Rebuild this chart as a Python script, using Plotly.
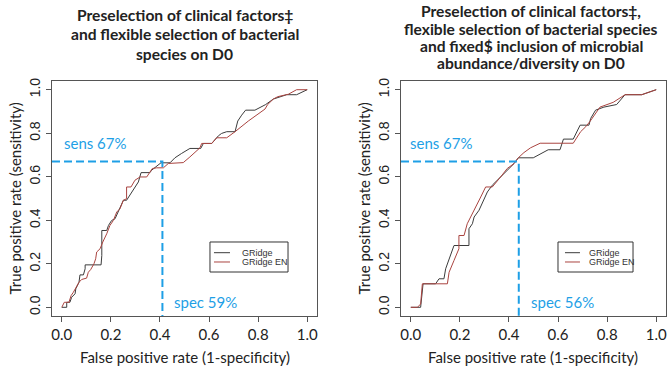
import plotly.graph_objects as go

# ---------------- data ----------------
tick_vals = [0.0, 0.2, 0.4, 0.6, 0.8, 1.0]
tick_text = ["0.0", "0.2", "0.4", "0.6", "0.8", "1.0"]
series_names = ["GRidge", "GRidge EN"]

# Left panel: clinical factors + flexible species selection
fpr_left_gr = [0.0, 0.020, 0.020, 0.033, 0.040, 0.054, 0.057, 0.070, 0.074, 0.088, 0.095, 0.095, 0.160, 0.163,
               0.163, 0.183, 0.190, 0.203, 0.217, 0.244, 0.251, 0.264, 0.285, 0.312, 0.323, 0.359, 0.366, 0.380,
               0.404, 0.441, 0.461, 0.488, 0.522, 0.566, 0.577, 0.611, 0.638, 0.651, 0.672, 0.706, 0.717, 0.733,
               0.749, 0.787, 0.808, 0.831, 0.862, 0.916, 0.957, 1.0]
tpr_left_gr = [0.0, 0.0, 0.023, 0.023, 0.046, 0.062, 0.085, 0.115, 0.149, 0.149, 0.177, 0.195, 0.195, 0.238,
               0.353, 0.353, 0.376, 0.399, 0.407, 0.469, 0.492, 0.492, 0.530, 0.576, 0.619, 0.619, 0.630, 0.642,
               0.664, 0.664, 0.687, 0.707, 0.730, 0.730, 0.753, 0.753, 0.788, 0.799, 0.807, 0.807, 0.856, 0.883,
               0.906, 0.906, 0.917, 0.932, 0.957, 0.977, 0.977, 1.0]
fpr_left_en = [0.0, 0.010, 0.029, 0.038, 0.047, 0.057, 0.070, 0.081, 0.101, 0.108, 0.118, 0.131, 0.138, 0.142,
               0.156, 0.167, 0.176, 0.183, 0.196, 0.210, 0.224, 0.237, 0.251, 0.264, 0.264, 0.282, 0.298, 0.319,
               0.346, 0.359, 0.369, 0.387, 0.414, 0.434, 0.495, 0.522, 0.563, 0.570, 0.611, 0.631, 0.672, 0.706,
               0.760, 0.828, 0.839, 0.862, 0.880, 0.923, 0.957, 1.0]
tpr_left_en = [0.0, 0.023, 0.023, 0.054, 0.069, 0.092, 0.115, 0.128, 0.134, 0.161, 0.174, 0.200, 0.223, 0.254,
               0.269, 0.300, 0.318, 0.338, 0.376, 0.399, 0.438, 0.453, 0.492, 0.499, 0.553, 0.553, 0.584, 0.599,
               0.599, 0.622, 0.638, 0.641, 0.641, 0.661, 0.665, 0.691, 0.733, 0.753, 0.753, 0.779, 0.779, 0.807,
               0.856, 0.911, 0.932, 0.957, 0.968, 0.979, 1.0, 1.0]

# Right panel: + fixed inclusion of microbial abundance/diversity
fpr_right_gr = [0.0, 0.040, 0.050, 0.101, 0.115, 0.135, 0.142, 0.156, 0.163, 0.176, 0.237, 0.237, 0.251, 0.258,
                0.278, 0.298, 0.312, 0.332, 0.366, 0.393, 0.421, 0.438, 0.499, 0.560, 0.608, 0.622, 0.662, 0.690,
                0.726, 0.733, 0.753, 0.787, 0.839, 0.873, 0.941, 1.0]
tpr_right_gr = [0.0, 0.0, 0.108, 0.108, 0.131, 0.131, 0.177, 0.223, 0.238, 0.284, 0.284, 0.361, 0.384, 0.415,
                0.446, 0.492, 0.530, 0.561, 0.599, 0.630, 0.661, 0.687, 0.687, 0.724, 0.724, 0.773, 0.773, 0.837,
                0.837, 0.868, 0.906, 0.920, 0.932, 0.977, 0.977, 1.0]
fpr_right_en = [0.0, 0.027, 0.040, 0.047, 0.149, 0.156, 0.176, 0.196, 0.196, 0.217, 0.230, 0.258, 0.271, 0.285,
                0.305, 0.332, 0.366, 0.393, 0.421, 0.438, 0.461, 0.488, 0.527, 0.662, 0.692, 0.713, 0.730, 0.771,
                0.825, 0.873, 0.941, 1.0]
tpr_right_en = [0.0, 0.0, 0.015, 0.108, 0.108, 0.161, 0.215, 0.269, 0.330, 0.330, 0.384, 0.446, 0.469, 0.507,
                0.553, 0.553, 0.599, 0.638, 0.661, 0.687, 0.711, 0.733, 0.754, 0.754, 0.807, 0.830, 0.854, 0.920,
                0.942, 0.977, 0.977, 1.0]

# operating points
sens_left, spec_left = 0.67, 0.59
sens_right, spec_right = 0.67, 0.56

title_left_lines = ["Preselection of clinical factors‡",
                    "and flexible selection of bacterial",
                    "species on D0"]
title_right_lines = ["Preselection of clinical factors‡,",
                     "flexible selection of bacterial species",
                     "and fixed$ inclusion of microbial",
                     "abundance/diversity on D0"]
x_title = "False positive rate (1-specificity)"
y_title = "True positive rate (sensitivity)"

# ---------------- styling ----------------
GR_COLOR = "#3c3c3c"
EN_COLOR = "#aa4440"
SERIES_COLORS = [GR_COLOR, EN_COLOR]
BLUE = "#1e9fe6"
AX = "#555555"
TXT = "#222222"
RNG = [-0.04, 1.04]

fig = go.Figure()

panels = [
    ("x", "y", fpr_left_gr, tpr_left_gr, fpr_left_en, tpr_left_en, sens_left, spec_left),
    ("x2", "y2", fpr_right_gr, tpr_right_gr, fpr_right_en, tpr_right_en, sens_right, spec_right),
]

for xa, ya, fg, tg, fe, te, sens, spec in panels:
    fpr_op = 1 - spec
    fig.add_trace(go.Scatter(x=fg, y=tg, mode="lines", name=series_names[0], xaxis=xa, yaxis=ya,
                             line=dict(color=GR_COLOR, width=1), showlegend=False))
    fig.add_trace(go.Scatter(x=fe, y=te, mode="lines", name=series_names[1], xaxis=xa, yaxis=ya,
                             line=dict(color=EN_COLOR, width=1), showlegend=False))
    # dashed operating-point guides
    fig.add_trace(go.Scatter(x=[RNG[0], fpr_op, fpr_op], y=[sens, sens, RNG[0]], mode="lines",
                             xaxis=xa, yaxis=ya, showlegend=False, hoverinfo="skip",
                             line=dict(color=BLUE, width=2, dash="8px,4px")))
    fig.add_annotation(x=(0.0 if xa == "x" else -0.012), y=sens + 0.086, xref=xa, yref=ya,
                       text=f"sens {round(sens*100)}%", showarrow=False, xanchor="left", yanchor="middle",
                       font=dict(family="Lato", size=15, color=BLUE))
    fig.add_annotation(x=fpr_op + 0.04, y=0.023, xref=xa, yref=ya,
                       text=f"spec {round(spec*100)}%", showarrow=False, xanchor="left", yanchor="middle",
                       font=dict(family="Lato", size=15, color=BLUE))

axis_common = dict(range=RNG, tickvals=tick_vals, ticktext=tick_text, ticks="outside", ticklen=5,
                   tickcolor=AX, tickwidth=1, showline=True, mirror=True, linecolor=AX, linewidth=1,
                   showgrid=False, zeroline=False, fixedrange=True)
xfont = dict(family="Lato", size=15, color=TXT)
yfont = dict(family="Liberation Sans", size=14, color=TXT)

fig.update_layout(
    width=669, height=366,
    margin=dict(l=52, r=3, t=81, b=50),
    paper_bgcolor="white", plot_bgcolor="white",
    xaxis=dict(domain=[0.0, 0.4316], anchor="y", tickfont=xfont, **axis_common),
    yaxis=dict(domain=[0.0, 1.0], anchor="x", tickfont=yfont, tickangle=-90, **axis_common),
    xaxis2=dict(domain=[0.5684, 1.0], anchor="y2", tickfont=xfont, **axis_common),
    yaxis2=dict(domain=[0.0, 1.0], anchor="x2", tickfont=yfont, tickangle=-90, **axis_common),
    showlegend=False,
)

# legend boxes (one per panel), in paper coordinates of the plotting area
legend_boxes = [
    dict(x0=0.2573, x1=0.3844, y0=0.1872, y1=0.3149, lx0=0.2638, lx1=0.2899, tx=0.3062),
    dict(x0=0.8241, x1=0.9463, y0=0.1872, y1=0.3149, lx0=0.8355, lx1=0.8599, tx=0.8713),
]
legend_rows = [0.2694, 0.2298]
for lb in legend_boxes:
    fig.add_shape(type="rect", xref="paper", yref="paper", x0=lb["x0"], x1=lb["x1"], y0=lb["y0"], y1=lb["y1"],
                  line=dict(color="#333333", width=1), fillcolor="white", layer="above")
    for name, col, ry in zip(series_names, SERIES_COLORS, legend_rows):
        fig.add_shape(type="line", xref="paper", yref="paper", x0=lb["lx0"], x1=lb["lx1"], y0=ry, y1=ry,
                      line=dict(color=col, width=1), layer="above")
        fig.add_annotation(x=lb["tx"], y=ry, xref="paper", yref="paper", text=name, showarrow=False,
                           xanchor="left", yanchor="middle",
                           font=dict(family="Liberation Sans", size=9, color="#333333"))

# panel titles, one annotation per line
title_font = dict(family="Lato", size=15.6, color=TXT)
for line, yv in zip(title_left_lines, [1.2809, 1.1979, 1.1149]):
    fig.add_annotation(x=0.5, y=yv, xref="x domain", yref="paper", text=f"<b>{line}</b>", showarrow=False,
                       xanchor="center", yanchor="middle", font=title_font)
for line, yv in zip(title_right_lines, [1.2979, 1.2234, 1.1489, 1.0745]):
    fig.add_annotation(x=0.4906, y=yv, xref="x2 domain", yref="paper", text=f"<b>{line}</b>", showarrow=False,
                       xanchor="center", yanchor="middle", font=title_font)

# axis titles
for xd, yd in [("x domain", "y domain"), ("x2 domain", "y2 domain")]:
    fig.add_annotation(x=0.5, y=-0.174, xref=xd, yref="paper", text=x_title, showarrow=False,
                       xanchor="center", yanchor="middle", font=dict(family="Lato", size=15, color=TXT))
    fig.add_annotation(x=-0.14, y=0.5, xref=xd, yref=yd, text=y_title, showarrow=False, textangle=-90,
                       xanchor="center", yanchor="middle", font=dict(family="Lato", size=15, color=TXT))

fig.write_html("out.html", config={"displayModeBar": False},
               post_script="document.body.style.margin='0px';document.body.style.overflow='hidden';")
